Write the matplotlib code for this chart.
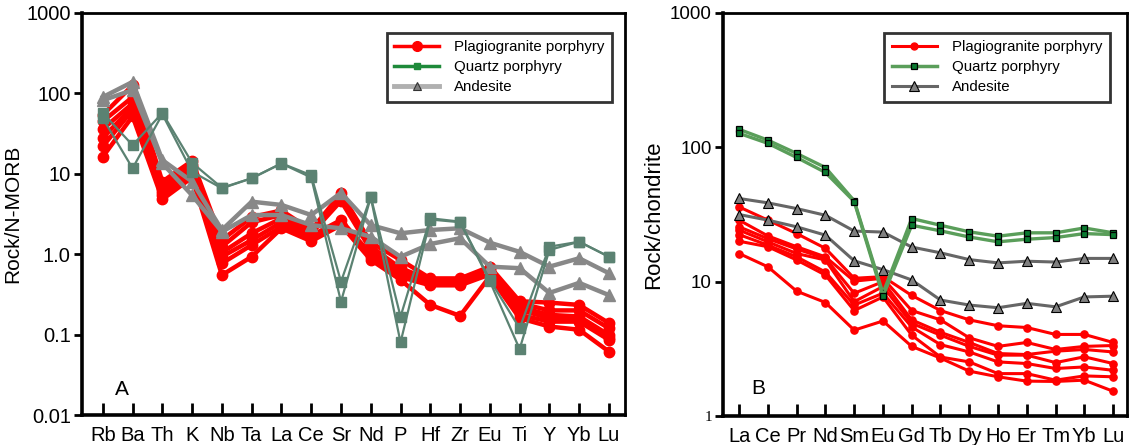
import numpy as np
import matplotlib.pyplot as plt
from matplotlib.lines import Line2D

plt.rcParams['font.family'] = ['Liberation Sans', 'DejaVu Sans']

# ---- panel A: N-MORB normalised spider diagram ----
elem_a = ['Rb', 'Ba', 'Th', 'K', 'Nb', 'Ta', 'La', 'Ce', 'Sr', 'Nd',
          'P', 'Hf', 'Zr', 'Eu', 'Ti', 'Y', 'Yb', 'Lu']

plagio_a = [
    [54, 126, 8.0, 14.5, 1.5, 2.9, 3.5, 2.0, 5.7, 1.4, 0.85, 0.50, 0.50, 0.70, 0.26, 0.25, 0.234, 0.139],
    [45, 90, 7.0, 13.0, 1.24, 2.5, 3.07, 1.9, 5.2, 1.25, 0.67, 0.48, 0.48, 0.67, 0.245, 0.20, 0.20, 0.12],
    [36, 75, 6.5, 12.0, 1.05, 1.82, 2.8, 1.8, 4.6, 1.13, 0.60, 0.45, 0.45, 0.63, 0.22, 0.176, 0.168, 0.099],
    [28, 68, 6.0, 11.0, 0.93, 1.5, 2.5, 1.7, 2.66, 1.0, 0.55, 0.42, 0.42, 0.60, 0.203, 0.16, 0.155, 0.092],
    [22, 62, 5.5, 10.0, 0.77, 1.3, 2.2, 1.6, 2.4, 0.93, 0.52, 0.41, 0.41, 0.56, 0.176, 0.145, 0.145, 0.086],
    [16.3, 52, 4.8, 9.0, 0.55, 0.93, 2.1, 1.45, 2.3, 0.85, 0.48, 0.234, 0.171, 0.53, 0.16, 0.126, 0.115, 0.0615],
]
quartz_a = [
    [57, 22.7, 57, 13.7, 6.7, 8.8, 13.5, 9.6, 0.455, 5.2, 0.167, 2.8, 2.54, 0.48, 0.12, 1.24, 1.43, 0.93],
    [49, 11.7, 55, 10.6, 6.6, 8.8, 13.4, 9.0, 0.257, 5.1, 0.080, 2.7, 2.5, 0.46, 0.066, 1.13, 1.43, 0.93],
]
andesite_a = [
    [90, 139, 14.8, 8.0, 2.0, 4.5, 4.1, 3.07, 5.8, 2.3, 1.82, 2.0, 2.1, 1.39, 1.07, 0.70, 0.89, 0.58],
    [82, 110, 13.5, 5.4, 1.9, 3.07, 3.07, 2.3, 2.1, 1.65, 0.93, 1.34, 1.58, 0.70, 0.67, 0.33, 0.44, 0.31],
]

# ---- panel B: chondrite normalised REE ----
elem_b = ['La', 'Ce', 'Pr', 'Nd', 'Sm', 'Eu', 'Gd', 'Tb', 'Dy', 'Ho', 'Er', 'Tm', 'Yb', 'Lu']

plagio_b = [
    [36, 28.7, 22.8, 17.7, 10.6, 10.9, 7.9, 6.1, 5.2, 4.7, 4.56, 4.05, 4.05, 3.53],
    [28.7, 21.9, 18.2, 15.3, 10.1, 10.6, 6.1, 5.2, 3.82, 3.3, 3.53, 3.13, 3.3, 3.35],
    [25.6, 20.9, 17.5, 14.9, 8.2, 10.0, 5.2, 4.2, 3.53, 2.92, 2.87, 3.04, 3.13, 3.0],
    [24.2, 19.8, 16.2, 14.5, 7.1, 9.2, 4.9, 4.0, 3.3, 2.84, 2.84, 2.5, 2.76, 2.46],
    [22.4, 18.7, 15.3, 11.8, 6.7, 8.2, 4.6, 3.4, 3.0, 2.53, 2.46, 2.26, 2.32, 2.19],
    [20.0, 18.2, 14.5, 11.2, 6.1, 7.7, 4.0, 2.75, 2.53, 2.07, 2.07, 1.85, 1.99, 1.96],
    [16.2, 12.9, 8.5, 7.0, 4.36, 5.1, 3.3, 2.7, 2.16, 1.96, 1.82, 1.81, 1.85, 1.53],
]
quartz_b = [
    [136, 113, 90, 70.7, 40, 8.2, 29.5, 26.3, 23.5, 21.8, 23.1, 23.1, 25.1, 23.1],
    [127, 107, 84, 65, 39.5, 7.8, 26.3, 23.9, 21.5, 19.8, 20.7, 21.3, 22.8, 22.4],
]
andesite_b = [
    [41.6, 38.6, 35, 31.2, 23.8, 23.4, 18.1, 16.4, 14.6, 13.8, 14.2, 14.0, 14.9, 14.9],
    [31.6, 28.7, 25.6, 22.2, 14.3, 12.3, 10.3, 7.3, 6.7, 6.4, 6.9, 6.5, 7.7, 7.8],
]

legend_names = ['Plagiogranite porphyry', 'Quartz porphyry', 'Andesite']

fig = plt.figure(figsize=(11.29, 4.45), dpi=100)
ax1 = fig.add_axes([0.0726, 0.0674, 0.481, 0.9034])
ax2 = fig.add_axes([0.6404, 0.065, 0.358, 0.906])

# panel A
xa = np.arange(len(elem_a))
for s in plagio_a:
    ax1.plot(xa, s, color='#ff0000', lw=3.2, marker='o', ms=7.5, mec='#ff0000', zorder=2)
for s in andesite_a:
    ax1.plot(xa, s, color='#888888', lw=3.2, marker='^', ms=8, mec='#888888', zorder=3)
for s in quartz_a:
    ax1.plot(xa, s, color='#5b8272', lw=1.6, marker='s', ms=7.5, mec='#5b8272', zorder=4)

ax1.set_yscale('log')
ax1.set_ylim(0.01, 1000)
ax1.set_xlim(-0.7, 17.54)
ax1.set_yticks([0.01, 0.1, 1, 10, 100, 1000])
ax1.set_yticklabels(['0.01', '0.1', '1.0', '10', '100', '1000'])
ax1.set_xticks(xa)
ax1.set_xticklabels(elem_a)
ax1.minorticks_off()
ax1.set_ylabel('Rock/N-MORB', fontsize=15, labelpad=3)
ax1.text(0.06, 0.05, 'A', transform=ax1.transAxes, fontsize=15)

h1 = [Line2D([], [], color='#ff0000', lw=2.5, marker='o', ms=7),
      Line2D([], [], color='#1e8a3a', lw=2.5, marker='s', ms=5),
      Line2D([], [], color='#b0b0b0', lw=3.5, marker='^', ms=6, mfc='#808080', mec='#333333', mew=0.8)]
leg1 = ax1.legend(h1, legend_names, loc='upper right', bbox_to_anchor=(0.99, 0.97),
                  fontsize=10.8, frameon=True, fancybox=False, edgecolor='black',
                  borderpad=0.5, labelspacing=0.4, handlelength=3.0, handletextpad=1.0)
leg1.get_frame().set_linewidth(2)

# panel B
xb = np.arange(len(elem_b))
for s in plagio_b:
    ax2.plot(xb, s, color='#ff0000', lw=2.2, marker='o', ms=5.2, mec='#ff0000', zorder=2)
for s in andesite_b:
    ax2.plot(xb, s, color='#666666', lw=2.2, marker='^', ms=7, mfc='#808080', mec='black', mew=0.8, zorder=3)
for s in quartz_b:
    ax2.plot(xb, s, color='#5a9e5a', lw=2.4, marker='s', ms=5, mfc='#0a7a30', mec='black', mew=0.9, zorder=4)

ax2.set_yscale('log')
ax2.set_ylim(1, 1000)
ax2.set_xlim(-0.56, 13.49)
ax2.set_yticks([1, 10, 100, 1000])
ax2.set_yticklabels(['1', '10', '100', '1000'])
ax2.set_xticks(xb)
ax2.set_xticklabels(elem_b)
ax2.minorticks_off()
ax2.set_ylabel('Rock/chondrite', fontsize=16, labelpad=4)
ax2.text(0.07, 0.055, 'B', transform=ax2.transAxes, fontsize=15)

h2 = [Line2D([], [], color='#ff0000', lw=2.2, marker='o', ms=5),
      Line2D([], [], color='#5a9e5a', lw=2.5, marker='s', ms=5, mfc='#0a7a30', mec='black', mew=0.9),
      Line2D([], [], color='#666666', lw=2.2, marker='^', ms=7, mfc='#808080', mec='black', mew=0.8)]
leg2 = ax2.legend(h2, legend_names, loc='upper right', bbox_to_anchor=(0.975, 0.97),
                  fontsize=10.8, frameon=True, fancybox=False, edgecolor='black',
                  borderpad=0.5, labelspacing=0.4, handlelength=3.0, handletextpad=1.0)
leg2.get_frame().set_linewidth(2)

for ax in (ax1, ax2):
    for side in ax.spines:
        ax.spines[side].set_linewidth(2)
    ax.spines['left'].set_linewidth(2.6)
    ax.spines['bottom'].set_linewidth(2.6)
    ax.tick_params(axis='y', direction='out', length=6, width=2, labelsize=14.5, pad=2)
    ax.tick_params(axis='x', direction='in', length=9, width=2, labelsize=14.5, pad=8)
ax2.tick_params(axis='y', labelsize=13.5)
ax2.get_yticklabels()[0].set_fontfamily('Liberation Serif')
ax2.get_yticklabels()[0].set_fontsize(11)

fig.savefig('out.png', dpi=100)
